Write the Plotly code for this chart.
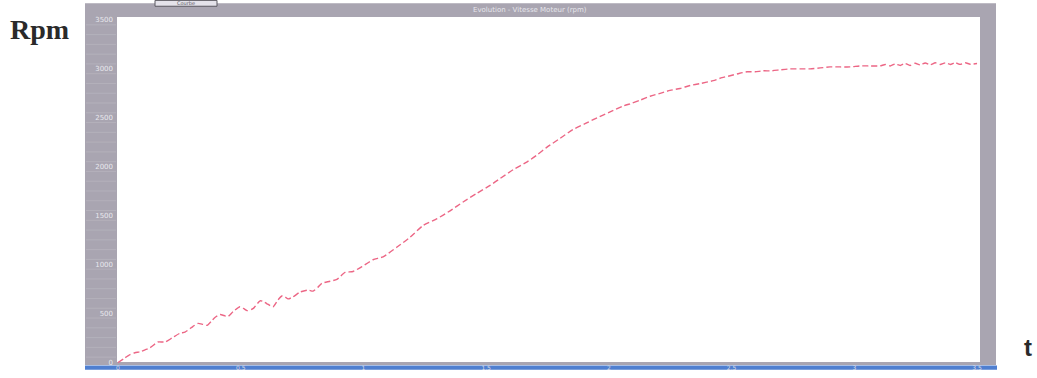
import plotly.graph_objects as go

# Motor speed run-up, time in seconds, speed in rpm
t_s = [0.000, 0.024, 0.049, 0.069, 0.090, 0.110, 0.130, 0.151, 0.163, 0.192,
       0.220, 0.253, 0.273, 0.306, 0.326, 0.346, 0.363, 0.383, 0.395, 0.416,
       0.432, 0.448, 0.469, 0.497, 0.513, 0.526, 0.550, 0.579, 0.595, 0.607,
       0.632, 0.652, 0.668, 0.681, 0.693, 0.713, 0.742, 0.774, 0.795, 0.815,
       0.831, 0.864, 0.892, 0.925, 0.958, 0.994, 1.039, 1.080, 1.137, 1.190,
       1.243, 1.300, 1.353, 1.406, 1.463, 1.516, 1.557, 1.610, 1.667, 1.707,
       1.748, 1.801, 1.854, 1.903, 1.952, 2.005, 2.058, 2.095, 2.127, 2.168,
       2.209, 2.249, 2.290, 2.331, 2.372, 2.425, 2.461, 2.494, 2.526, 2.563,
       2.596, 2.628, 2.661, 2.698, 2.738, 2.779, 2.820, 2.861, 2.901, 2.942,
       2.983, 3.024, 3.064, 3.105, 3.126, 3.146, 3.166, 3.187, 3.207, 3.227,
       3.248, 3.268, 3.289, 3.309, 3.330, 3.350, 3.371, 3.391, 3.411, 3.431,
       3.452, 3.472, 3.500]
rpm = [0, 40, 80, 100, 110, 130, 150, 190, 210, 210,
       250, 300, 310, 370, 400, 390, 380, 430, 460, 490,
       480, 470, 520, 570, 550, 530, 550, 630, 620, 600,
       570, 640, 680, 670, 650, 670, 720, 740, 730, 770,
       810, 830, 850, 920, 930, 980, 1050, 1080, 1180, 1280,
       1400, 1470, 1550, 1640, 1730, 1810, 1880, 1970, 2050, 2120,
       2200, 2290, 2380, 2440, 2500, 2560, 2620, 2650, 2680, 2720,
       2750, 2780, 2800, 2830, 2850, 2880, 2910, 2930, 2950, 2970,
       2970, 2980, 2980, 2990, 3000, 3000, 3000, 3010, 3020, 3020,
       3020, 3030, 3030, 3030, 3045, 3030, 3050, 3035, 3055, 3035,
       3058, 3040, 3060, 3042, 3062, 3044, 3062, 3045, 3063, 3046,
       3062, 3048, 3055]

y_ticks = [0, 500, 1000, 1500, 2000, 2500, 3000, 3500]
x_ticks = [0, 0.5, 1, 1.5, 2, 2.5, 3, 3.5]
x_tick_text = ["0", "0.5", "1", "1.5", "2", "2.5", "3", "3.5"]

W, H = 1037, 378
L, R, T, B = 117, 980, 17, 371   # plot area in pixels


def px(x):
    # pixel column -> paper x (paper spans the plot area)
    return (x - L) / (R - L)


def py(y):
    # pixel row -> paper y
    return (B - y) / (B - T)


frame = "#a9a5b1"

fig = go.Figure()
fig.add_trace(go.Scatter(
    x=t_s, y=rpm, mode="lines",
    line=dict(color="#ec6685", width=1.4, dash="6px,3px", shape="spline", smoothing=0.6),
    hoverinfo="skip", showlegend=False,
))

shapes = [
    # grey window frame
    dict(type="rect", xref="paper", yref="paper", x0=px(85), x1=px(996), y0=py(373), y1=py(3),
         fillcolor=frame, line=dict(width=0), layer="below"),
    # white plotting surface
    dict(type="rect", xref="paper", yref="paper", x0=px(L), x1=px(R), y0=py(B - 1), y1=py(T),
         fillcolor="white", line=dict(width=0), layer="below"),
    # blue bottom edge
    dict(type="rect", xref="paper", yref="paper", x0=px(85), x1=px(997), y0=py(378), y1=py(373.5),
         fillcolor="#4f7fd0", line=dict(width=0), layer="below"),
    # small caption tab on top
    dict(type="rect", xref="paper", yref="paper", x0=px(155), x1=px(217), y0=py(6), y1=py(0),
         fillcolor="#e4e2ea", line=dict(width=1, color="#5a5860"), layer="below"),
]
# faint ruling on the left frame strip
for yy in range(25, 370, 10):
    shapes.append(dict(type="line", xref="paper", yref="paper", x0=px(86), x1=px(116),
                       y0=py(yy), y1=py(yy), line=dict(color="#b4b1bb", width=1), layer="below"))

fig.update_layout(
    width=W, height=H,
    margin=dict(l=L, r=W - R, t=T, b=H - B),
    paper_bgcolor="white", plot_bgcolor="rgba(0,0,0,0)",
    shapes=shapes,
    xaxis=dict(range=[-0.004, 3.512], showgrid=False, zeroline=False, showline=False,
               tickvals=x_ticks, ticktext=x_tick_text, ticks="", ticklabelstandoff=0,
               tickfont=dict(size=6, color="#dcdce4", family="DejaVu Sans")),
    yaxis=dict(range=[-5, 3530], showgrid=False, zeroline=False, showline=False,
               tickvals=y_ticks, ticks="", ticklabelstandoff=3,
               tickfont=dict(size=7, color="#e8e8ee", family="DejaVu Sans")),
    annotations=[
        dict(text="<b>Rpm</b>", xref="paper", yref="paper", x=px(8), y=py(30), xanchor="left",
             yanchor="middle", showarrow=False,
             font=dict(family="Liberation Serif", size=28, color="#2a2a2a")),
        dict(text="<b>t</b>", xref="paper", yref="paper", x=px(1028), y=py(355), xanchor="center",
             yanchor="middle", showarrow=False,
             font=dict(family="Liberation Sans", size=24, color="#2a2a2a")),
        dict(text="Evolution - Vitesse Moteur (rpm)", xref="paper", yref="paper", x=px(530),
             y=py(10), xanchor="center", yanchor="middle", showarrow=False,
             font=dict(family="DejaVu Sans", size=7, color="#e6e6ec")),
        dict(text="Courbe", xref="paper", yref="paper", x=px(186), y=py(3), xanchor="center",
             yanchor="middle", showarrow=False,
             font=dict(family="DejaVu Sans", size=5, color="#55545c")),
    ],
)

fig.write_html("out.html")
